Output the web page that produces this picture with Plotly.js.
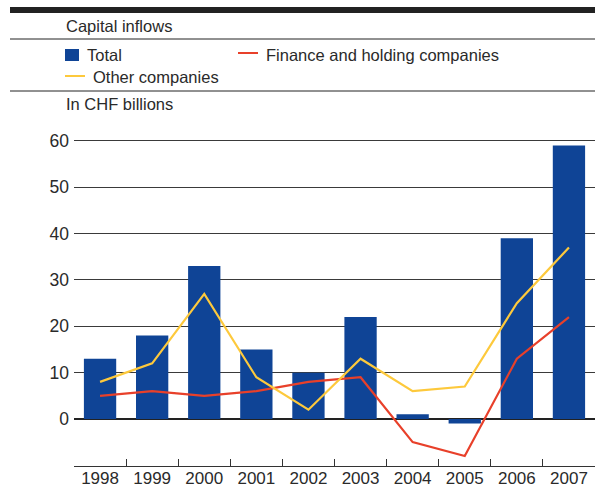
<!DOCTYPE html>
<html>
<head>
<meta charset="utf-8">
<script src="https://cdn.plot.ly/plotly-3.0.1.min.js"></script>
<style>html,body{margin:0;padding:0;background:#fff;}#chart{width:595px;height:490px;}</style>
</head>
<body>
<div id="chart"></div>
<script>
const years = ["1998","1999","2000","2001","2002","2003","2004","2005","2006","2007"];
const total = [13, 18, 33, 15, 10, 22, 1, -1, 39, 59];
const finance = [5, 6, 5, 6, 8, 9, -5, -8, 13, 22];
const other = [8, 12, 27, 9, 2, 13, 6, 7, 25, 37];
const yTicks = [0, 10, 20, 30, 40, 50, 60];

const BLUE = "#0f4496", RED = "#e8402a", YEL = "#fdc93c", TXT = "#2a2a2a";
const FONT = "Liberation Sans, Arial, sans-serif";

const data = [
  {type: "bar", x: years, y: total, name: "Total", marker: {color: BLUE}, width: 0.62, showlegend: false},
  {type: "scatter", mode: "lines", x: years, y: finance, name: "Finance and holding companies", line: {color: RED, width: 2.2}, showlegend: false},
  {type: "scatter", mode: "lines", x: years, y: other, name: "Other companies", line: {color: YEL, width: 2.2}, showlegend: false}
];

function py(p) { return 1 - (p - 136) / 330; }   // pixel y -> paper y
function px(p) { return (p - 74) / 521; }        // pixel x -> paper x

const layout = {
  width: 595, height: 490,
  margin: {l: 74, r: 0, t: 136, b: 24},
  paper_bgcolor: "#fff", plot_bgcolor: "#fff",
  font: {family: FONT, size: 16, color: TXT},
  xaxis: {
    type: "category", showgrid: false, zeroline: false,
    showline: true, linecolor: "#333", linewidth: 1,
    ticks: "inside", tickson: "boundaries", ticklen: 7, tickcolor: "#333",
    ticklabelstandoff: -3,
    tickfont: {size: 17, color: TXT}, fixedrange: true
  },
  yaxis: {
    range: [-10.15, 61.07], tickvals: yTicks, ticktext: yTicks.map(String),
    showgrid: true, gridcolor: "#3a3a3a", gridwidth: 1,
    zeroline: true, zerolinecolor: "#222", zerolinewidth: 2,
    showline: false, ticks: "", ticklabelstandoff: 4,
    tickfont: {size: 17.5, color: TXT}, fixedrange: true
  },
  shapes: [
    {type: "rect", xref: "paper", yref: "paper", x0: px(10), x1: px(595), y0: py(13), y1: py(7), fillcolor: "#222", line: {width: 0}},
    {type: "line", xref: "paper", yref: "paper", x0: px(10), x1: px(595), y0: py(39), y1: py(39), line: {color: "#222", width: 1}},
    {type: "line", xref: "paper", yref: "paper", x0: px(10), x1: px(595), y0: py(91), y1: py(91), line: {color: "#222", width: 1}},
    {type: "rect", xref: "paper", yref: "paper", x0: px(65), x1: px(79), y0: py(61), y1: py(49), fillcolor: BLUE, line: {width: 0}},
    {type: "line", xref: "paper", yref: "paper", x0: px(238), x1: px(258), y0: py(53), y1: py(53), line: {color: RED, width: 2}},
    {type: "line", xref: "paper", yref: "paper", x0: px(65), x1: px(85), y0: py(76), y1: py(76), line: {color: YEL, width: 2}}
  ],
  annotations: [
    {text: "Capital inflows", xref: "paper", yref: "paper", x: px(64), y: py(26), xanchor: "left", yanchor: "middle", showarrow: false, font: {size: 16.5, color: TXT}},
    {text: "Total", xref: "paper", yref: "paper", x: px(85), y: py(55), xanchor: "left", yanchor: "middle", showarrow: false, font: {size: 16.5, color: TXT}},
    {text: "Finance and holding companies", xref: "paper", yref: "paper", x: px(264), y: py(55), xanchor: "left", yanchor: "middle", showarrow: false, font: {size: 16.5, color: TXT}},
    {text: "Other companies", xref: "paper", yref: "paper", x: px(91), y: py(77), xanchor: "left", yanchor: "middle", showarrow: false, font: {size: 16.5, color: TXT}},
    {text: "In CHF billions", xref: "paper", yref: "paper", x: px(64), y: py(104), xanchor: "left", yanchor: "middle", showarrow: false, font: {size: 16.5, color: TXT}}
  ]
};

Plotly.newPlot("chart", data, layout, {displayModeBar: false, staticPlot: true});
</script>
</body>
</html>
